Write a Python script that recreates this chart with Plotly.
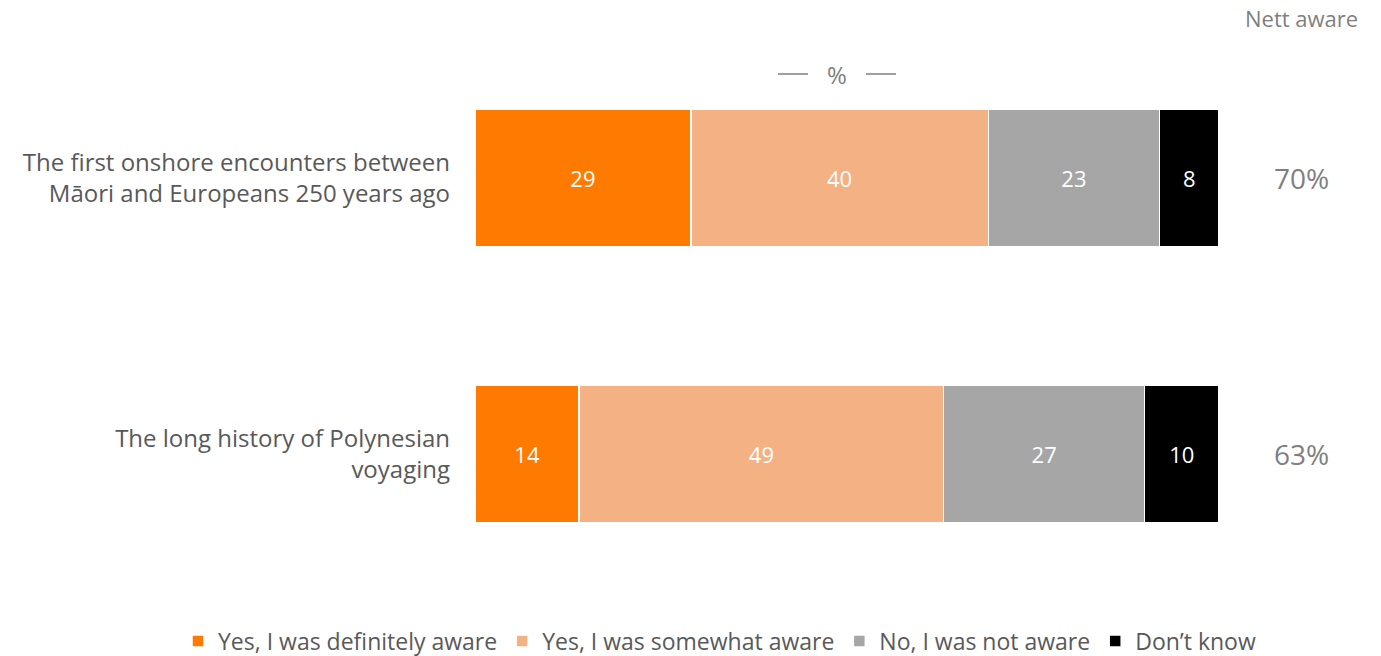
import plotly.graph_objects as go

# Survey statements (bottom to top in the chart)
statements = [
    "The long history of Polynesian<br>voyaging",
    "The first onshore encounters between<br>Māori and Europeans 250 years ago",
]
series_names = [
    "Yes, I was definitely aware",
    "Yes, I was somewhat aware",
    "No, I was not aware",
    "Don’t know",
]
definitely_aware = [14, 29]
somewhat_aware = [49, 40]
not_aware = [27, 23]
dont_know = [10, 8]
nett_aware = [63, 70]

colors = ["#FF7A00", "#F4B183", "#A6A6A6", "#000000"]
values = [definitely_aware, somewhat_aware, not_aware, dont_know]

FONT = "Open Sans, Liberation Sans, sans-serif"
GREY = "#595959"
LIGHT_GREY = "#7F7F7F"

W, H = 1381, 656
ML, MR, MT, MB = 475, 162, 40, 64
PW, PH = W - ML - MR, H - MT - MB


def px_to_paper(x, y):
    return (x - ML) / PW, (H - MB - y) / PH


fig = go.Figure()
for name, vals, col in zip(series_names, values, colors):
    fig.add_trace(go.Bar(
        y=statements,
        x=vals,
        name=name,
        orientation="h",
        marker=dict(color=col, line=dict(color="white", width=1.5)),
        text=[str(v) for v in vals],
        textposition="inside",
        insidetextanchor="middle",
        textfont=dict(color="white", size=22, family=FONT),
        hoverinfo="skip",
    ))

# Nett aware figures to the right of each bar
nx, _ = px_to_paper(1301, 0)
for stmt, v in zip(statements, nett_aware):
    fig.add_annotation(
        x=nx, xref="paper", y=stmt, yref="y",
        text=f"{v}%", showarrow=False,
        font=dict(size=28, color=LIGHT_GREY, family=FONT),
        xanchor="center", yanchor="middle",
    )

hx, hy = px_to_paper(1301, 18)
fig.add_annotation(
    x=hx, xref="paper", y=hy, yref="paper",
    text="Nett aware", showarrow=False,
    font=dict(size=22, color=LIGHT_GREY, family=FONT),
    xanchor="center", yanchor="middle",
)

# "— % —" unit marker above the bars
px_, py_ = px_to_paper(837, 74)
fig.add_annotation(
    x=px_, xref="paper", y=py_, yref="paper",
    text="%", showarrow=False,
    font=dict(size=24, color=LIGHT_GREY, family=FONT),
    xanchor="center", yanchor="middle",
)
for x0, x1 in [(778, 808), (866, 896)]:
    a, ly = px_to_paper(x0, 74)
    b, _ = px_to_paper(x1, 74)
    fig.add_shape(type="line", xref="paper", yref="paper",
                  x0=a, x1=b, y0=ly, y1=ly,
                  line=dict(color=LIGHT_GREY, width=1.5))

lx, ly = px_to_paper(178, 641)

fig.update_layout(
    width=W, height=H,
    barmode="stack",
    bargap=0.5,
    plot_bgcolor="white",
    paper_bgcolor="white",
    margin=dict(l=ML, r=MR, t=MT, b=MB, autoexpand=False),
    font=dict(family=FONT, color=GREY),
    xaxis=dict(range=[0, 100], visible=False, fixedrange=True),
    yaxis=dict(
        range=[-0.5, 1.5],
        showgrid=False, zeroline=False, showline=False,
        ticks="", ticklabelstandoff=24,
        tickfont=dict(size=24, color=GREY, family=FONT),
    ),
    legend=dict(
        orientation="h",
        xref="paper", yref="paper",
        x=lx, xanchor="left",
        y=ly, yanchor="middle",
        font=dict(size=23, color=GREY, family=FONT),
        itemwidth=30,
        traceorder="normal",
    ),
    showlegend=True,
)

fig.write_html("out.html")
